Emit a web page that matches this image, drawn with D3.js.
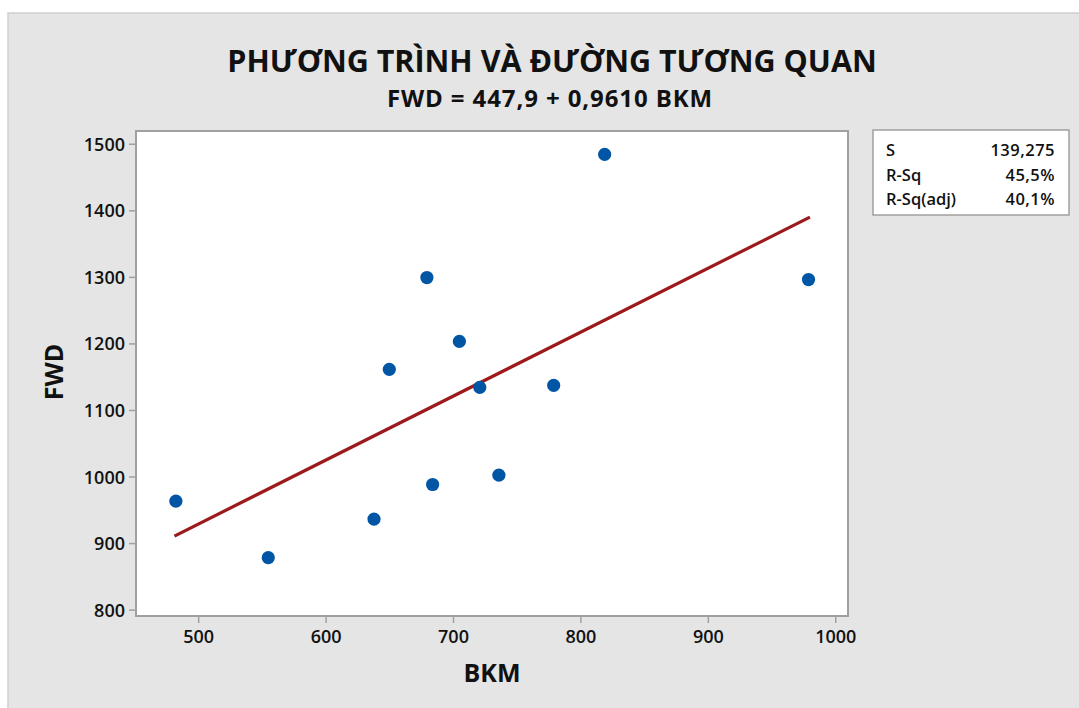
<!DOCTYPE html>
<html><head><meta charset="utf-8">
<script src="https://cdn.jsdelivr.net/npm/d3@7"></script>
<style>
html,body{margin:0;padding:0;background:#fff;}
svg{display:block;font-family:"Open Sans","Noto Sans",sans-serif;}
</style></head>
<body><svg id="c" width="1079" height="708"></svg>
<script>
const bkm = [482.5, 555, 638, 650, 679.5, 684, 705, 721, 736, 779, 819, 979];
const fwd = [963, 878, 936, 1161, 1299, 988, 1203, 1134, 1002, 1137, 1484, 1296];
const xTicks = [500, 600, 700, 800, 900, 1000];
const yTicks = [800, 900, 1000, 1100, 1200, 1300, 1400, 1500];
const intercept = 447.9, slope = 0.9610;
const statLabels = ["S", "R-Sq", "R-Sq(adj)"];
const statValues = ["139,275", "45,5%", "40,1%"];
const title = "PHƯƠNG TRÌNH VÀ ĐƯỜNG TƯƠNG QUAN";
const subtitle = "FWD = 447,9 + 0,9610 BKM";

const svg = d3.select("#c");
svg.append("rect").attr("x",8).attr("y",13).attr("width",1079).attr("height",708)
  .attr("fill","#e5e5e5").attr("stroke","#cfcfcf").attr("stroke-width",1.5);

const L=136, R=848, T=131, B=616;
const x = d3.scaleLinear().domain([451.2, 1010]).range([L, R]);
const y = d3.scaleLinear().domain([790.4, 1519.2]).range([B, T]);

svg.append("rect").attr("x",L).attr("y",T).attr("width",R-L).attr("height",B-T)
  .attr("fill","#fff").attr("stroke","#a0a0a0").attr("stroke-width",2);

const xa = svg.append("g").attr("transform",`translate(0,${B})`)
  .call(d3.axisBottom(x).tickValues(xTicks).tickSize(7).tickPadding(7).tickFormat(d3.format("d")));
const ya = svg.append("g").attr("transform",`translate(${L},0)`)
  .call(d3.axisLeft(y).tickValues(yTicks).tickSize(7).tickPadding(4).tickFormat(d3.format("d")));
[xa,ya].forEach(a=>{
  a.select(".domain").remove();
  a.selectAll(".tick line").attr("stroke","#a0a0a0").attr("stroke-width",1.5);
  a.selectAll(".tick text").attr("fill","#111").style("font-size","18px").style("font-weight","600")
   .style("font-family","'Open Sans',sans-serif");
});
ya.selectAll(".tick text").attr("dy","0.36em");

// regression line
const xs = [d3.min(bkm), d3.max(bkm)];
svg.append("path")
  .attr("d", d3.line().x(d=>x(d)).y(d=>y(intercept+slope*d))(xs))
  .attr("fill","none").attr("stroke","#9c1a1c").attr("stroke-width",3.2).attr("stroke-linecap","square");

svg.append("g").selectAll("circle").data(bkm).join("circle")
  .attr("cx",(d)=>x(d)).attr("cy",(d,i)=>y(fwd[i])).attr("r",6.6).attr("fill","#0055a5");

// titles
svg.append("text").attr("x",552).attr("y",72).attr("text-anchor","middle")
  .style("font-size","30.5px").style("font-weight","700").attr("fill","#111").text(title);
svg.append("text").attr("x",550).attr("y",107).attr("text-anchor","middle")
  .style("font-size","24px").style("font-weight","700").style("letter-spacing","0.9px").attr("fill","#111").text(subtitle);

svg.append("text").attr("x",492).attr("y",682).attr("text-anchor","middle")
  .style("font-size","25px").style("font-weight","700").attr("fill","#111").text("BKM");
svg.append("text").attr("transform","translate(63,372) rotate(-90)").attr("text-anchor","middle")
  .style("font-size","25px").style("font-weight","700").attr("fill","#111").text("FWD");

// stats box
const bx=873, by=130, bw=196, bh=85;
svg.append("rect").attr("x",bx).attr("y",by).attr("width",bw).attr("height",bh)
  .attr("fill","#fff").attr("stroke","#a0a0a0").attr("stroke-width",1.5);
const rows = svg.append("g");
statLabels.forEach((s,i)=>{
  rows.append("text").attr("x",886).attr("y",156+i*24.5).style("font-size","16.5px").style("font-weight","600")
    .attr("fill","#111").text(s);
  rows.append("text").attr("x",1055).attr("y",156+i*24.5).attr("text-anchor","end").style("font-size","16.5px")
    .style("font-weight","600").style("letter-spacing","0.5px").attr("fill","#111").text(statValues[i]);
});
</script></body></html>
